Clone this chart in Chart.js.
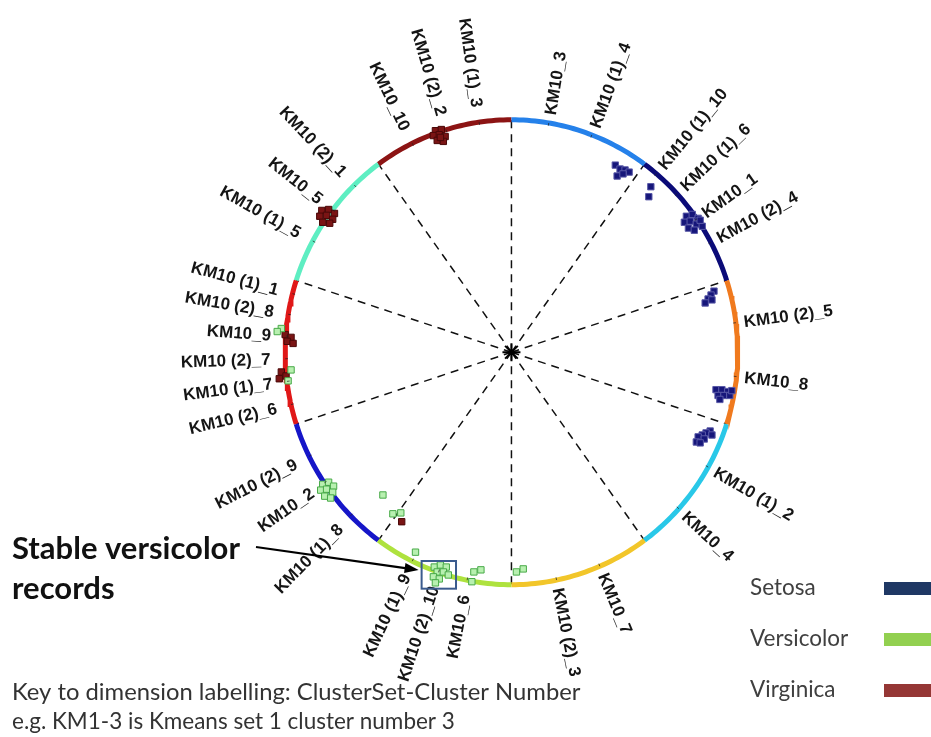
<!DOCTYPE html>
<html>
<head>
<meta charset="utf-8">
<script src="https://cdn.jsdelivr.net/npm/chart.js@4.4.1/dist/chart.umd.min.js"></script>
<style>
  html, body { margin: 0; padding: 0; background: #fff; }
  canvas { display: block; }
</style>
</head>
<body>
<canvas id="radviz" width="931" height="737"></canvas>
<script>
// dimension anchors, angle in degrees clockwise from the top of the circle
const dimLabels = ['KM10_3', 'KM10 (1)_4', 'KM10 (1)_10', 'KM10 (1)_6', 'KM10_1', 'KM10 (2)_4',
    'KM10 (2)_5', 'KM10_8', 'KM10 (1)_2', 'KM10_4', 'KM10_7', 'KM10 (2)_3',
    'KM10_6', 'KM10 (2)_10', 'KM10 (1)_9', 'KM10 (1)_8', 'KM10_2', 'KM10 (2)_9',
    'KM10 (2)_6', 'KM10 (1)_7', 'KM10 (2)_7', 'KM10_9', 'KM10 (2)_8', 'KM10 (1)_1',
    'KM10 (1)_5', 'KM10_5', 'KM10 (2)_1', 'KM10_10', 'KM10 (2)_2', 'KM10 (1)_3'];
const dimAngles = [9.5, 20.8, 39.8, 47, 55, 61.8,
    82.7, 96, 119.6, 132.3, 157, 168.5,
    191.3, 198.8, 206, 225.3, 235.8, 243.4,
    257, 262.8, 268.4, 274, 279.4, 284.6,
    298.6, 307.8, 316, 334, 343.2, 351.8];

// ten sectors of the rim, clockwise from the top
const sectorColors = ['#2581ea', '#0b0b78', '#f07a1e', '#29c8e8', '#f2c62a',
    '#aee23e', '#1616c8', '#e01818', '#5eeec2', '#8c1414'];

// projected records (x, y)
const setosa = [
    [0.459, 0.805], [0.480, 0.788], [0.502, 0.784], [0.520, 0.775], [0.467, 0.758], [0.493, 0.767],
    [0.616, 0.712], [0.607, 0.669],
    [0.773, 0.585], [0.799, 0.593], [0.825, 0.576], [0.764, 0.559], [0.790, 0.564], [0.817, 0.551],
    [0.843, 0.542], [0.782, 0.534], [0.808, 0.525], [0.834, 0.568],
    [0.895, 0.263], [0.882, 0.246], [0.869, 0.229], [0.856, 0.212], [0.886, 0.225],
    [0.904, -0.161], [0.930, -0.161], [0.956, -0.169], [0.913, -0.186], [0.939, -0.186],
    [0.965, -0.186], [0.921, -0.203], [0.974, -0.165],
    [0.878, -0.339], [0.860, -0.347], [0.843, -0.356], [0.825, -0.364], [0.852, -0.373],
    [0.817, -0.386], [0.886, -0.356], [0.834, -0.390]
];
const versicolor = [
    [-1.017, 0.102], [-1.035, 0.089], [-0.974, -0.076], [-0.987, -0.123],
    [-0.834, -0.568], [-0.808, -0.559], [-0.786, -0.576], [-0.843, -0.593], [-0.817, -0.589],
    [-0.790, -0.602], [-0.825, -0.619], [-0.799, -0.627],
    [-0.568, -0.614], [-0.524, -0.695], [-0.489, -0.691], [-0.424, -0.860],
    [-0.341, -0.924], [-0.314, -0.915], [-0.288, -0.924], [-0.328, -0.945], [-0.301, -0.945],
    [-0.279, -0.958], [-0.345, -0.966], [-0.319, -0.975], [-0.336, -0.992],
    [-0.166, -0.945], [-0.135, -0.936], [-0.175, -0.987], [0.022, -0.945], [0.052, -0.932]
];
const virginica = [
    [-0.336, 0.953], [-0.310, 0.958], [-0.345, 0.932], [-0.319, 0.936], [-0.293, 0.928],
    [-0.328, 0.911], [-0.301, 0.907], [-0.314, 0.924],
    [-0.838, 0.610], [-0.808, 0.614], [-0.782, 0.597], [-0.847, 0.585], [-0.817, 0.589],
    [-0.790, 0.572], [-0.834, 0.559], [-0.803, 0.555],
    [-1.000, 0.076], [-0.974, 0.064], [-0.991, 0.047], [-0.965, 0.038],
    [-1.017, -0.085], [-0.996, -0.102], [-1.026, -0.114],
    [-0.485, -0.729]
];

const classNames = ['Setosa', 'Versicolor', 'Virginica'];
const classKeyColors = ['#1f3864', '#92d050', '#953735'];

const rad = deg => deg * Math.PI / 180;
const onRim = (r, deg) => ({ x: r * Math.sin(rad(deg)), y: r * Math.cos(rad(deg)) });
const toXY = pts => pts.map(p => ({ x: p[0], y: p[1] }));

const datasets = [];

// records on top
const pointSets = [
    [setosa, '#16167a', '#5a5aa8'],
    [versicolor, '#b8f0b0', '#48aa48'],
    [virginica, '#7a1414', '#4a0808']
];
pointSets.forEach(([pts, fill, edge]) => {
    datasets.push({
        data: toXY(pts),
        pointStyle: 'rect',
        pointRadius: 4.5,
        backgroundColor: fill,
        borderColor: edge,
        borderWidth: 1,
        order: 0
    });
});

// coloured rim
sectorColors.forEach((c, i) => {
    const arc = [];
    for (let a = i * 36; a <= (i + 1) * 36 + 0.001; a += 1) arc.push(onRim(1, a));
    datasets.push({
        data: arc,
        showLine: true,
        borderColor: c,
        borderWidth: 5,
        borderCapStyle: 'butt',
        pointRadius: 0,
        order: 1
    });
});

// dashed spokes on the sector boundaries
for (let i = 0; i < 10; i++) {
    datasets.push({
        data: [{ x: 0, y: 0 }, onRim(1, i * 36)],
        showLine: true,
        borderColor: '#111',
        borderWidth: 1.5,
        borderDash: [8, 6],
        pointRadius: 0,
        order: 2
    });
}

const decorations = {
    id: 'decorations',
    afterDatasetsDraw(chart) {
        const { ctx, scales } = chart;
        const px = p => ({ x: scales.x.getPixelForValue(p.x), y: scales.y.getPixelForValue(p.y) });
        const c = px({ x: 0, y: 0 });
        ctx.save();

        // small ticks where each dimension sits on the rim
        ctx.strokeStyle = 'rgba(30,30,30,0.7)';
        ctx.lineWidth = 1;
        dimAngles.forEach(a => {
            const p0 = px(onRim(0.988, a)), p1 = px(onRim(1.0, a));
            ctx.beginPath();
            ctx.moveTo(p0.x, p0.y);
            ctx.lineTo(p1.x, p1.y);
            ctx.stroke();
        });

        // dimension labels, written along the radius
        ctx.fillStyle = '#151515';
        ctx.font = 'bold 17px "Liberation Sans", Arial, sans-serif';
        ctx.textBaseline = 'middle';
        dimLabels.forEach((label, i) => {
            const a = dimAngles[i];
            const right = a < 180;
            const p = px(onRim(right ? 1.035 : 1.065, a));
            let rot = Math.atan2(p.y - c.y, p.x - c.x);
            if (!right) rot += Math.PI;
            ctx.save();
            ctx.translate(p.x, p.y);
            ctx.rotate(rot);
            ctx.textAlign = right ? 'left' : 'right';
            ctx.fillText(label, 0, 1);
            ctx.restore();
        });

        // centre asterisk
        ctx.strokeStyle = '#000';
        ctx.lineWidth = 2;
        for (let k = 0; k < 4; k++) {
            const t = k * Math.PI / 4;
            ctx.beginPath();
            ctx.moveTo(c.x - 9 * Math.cos(t), c.y - 9 * Math.sin(t));
            ctx.lineTo(c.x + 9 * Math.cos(t), c.y + 9 * Math.sin(t));
            ctx.stroke();
        }
        ctx.beginPath();
        ctx.arc(c.x, c.y, 3, 0, Math.PI * 2);
        ctx.fillStyle = '#000';
        ctx.fill();

        // box around the stable versicolor group
        const b0 = px({ x: -0.397, y: -0.898 }), b1 = px({ x: -0.245, y: -1.017 });
        ctx.strokeStyle = '#3b5b8e';
        ctx.lineWidth = 2;
        ctx.strokeRect(b0.x, b0.y, b1.x - b0.x, b1.y - b0.y);

        // arrow from the note to the box
        const tail = { x: 256, y: 547 }, tip = { x: b0.x - 3, y: b0.y + 9 };
        const ang = Math.atan2(tip.y - tail.y, tip.x - tail.x);
        ctx.strokeStyle = '#000';
        ctx.fillStyle = '#000';
        ctx.lineWidth = 2.2;
        ctx.beginPath();
        ctx.moveTo(tail.x, tail.y);
        ctx.lineTo(tip.x - 10 * Math.cos(ang), tip.y - 10 * Math.sin(ang));
        ctx.stroke();
        ctx.beginPath();
        ctx.moveTo(tip.x, tip.y);
        ctx.lineTo(tip.x - 14 * Math.cos(ang) + 5 * Math.sin(ang), tip.y - 14 * Math.sin(ang) - 5 * Math.cos(ang));
        ctx.lineTo(tip.x - 14 * Math.cos(ang) - 5 * Math.sin(ang), tip.y - 14 * Math.sin(ang) + 5 * Math.cos(ang));
        ctx.closePath();
        ctx.fill();

        // note text
        ctx.textAlign = 'left';
        ctx.textBaseline = 'alphabetic';
        ctx.fillStyle = '#111';
        ctx.font = 'bold 31px Lato, "Open Sans", sans-serif';
        ctx.fillText('Stable versicolor', 12, 559);
        ctx.fillText('records', 12, 599);

        ctx.fillStyle = '#333';
        ctx.font = '23.8px Lato, "Open Sans", sans-serif';
        ctx.fillText('Key to dimension labelling: ClusterSet-Cluster Number', 12, 700);
        ctx.font = '22.5px Lato, "Open Sans", sans-serif';
        ctx.fillText('e.g. KM1-3 is Kmeans set 1 cluster number 3', 12, 729);

        // class key
        ctx.font = '22.5px Lato, "Open Sans", sans-serif';
        ctx.textBaseline = 'middle';
        classNames.forEach((name, i) => {
            const y = 588 + i * 51;
            ctx.fillStyle = '#404040';
            ctx.fillText(name, 750, y);
            ctx.fillStyle = classKeyColors[i];
            ctx.fillRect(884, y - 6, 50, 13);
        });

        ctx.restore();
    }
};

// pixel layout: rim centre at (512, 352), radii 229 x 236 px
new Chart(document.getElementById('radviz').getContext('2d'), {
    type: 'scatter',
    data: { datasets: datasets },
    options: {
        responsive: false,
        animation: false,
        devicePixelRatio: 1,
        layout: { padding: 0 },
        plugins: { legend: { display: false }, tooltip: { enabled: false } },
        scales: {
            x: { display: false, min: -512 / 229, max: (931 - 512) / 229 },
            y: { display: false, min: -(737 - 352) / 236, max: 352 / 236 }
        }
    },
    plugins: [decorations]
});
</script>
</body>
</html>
